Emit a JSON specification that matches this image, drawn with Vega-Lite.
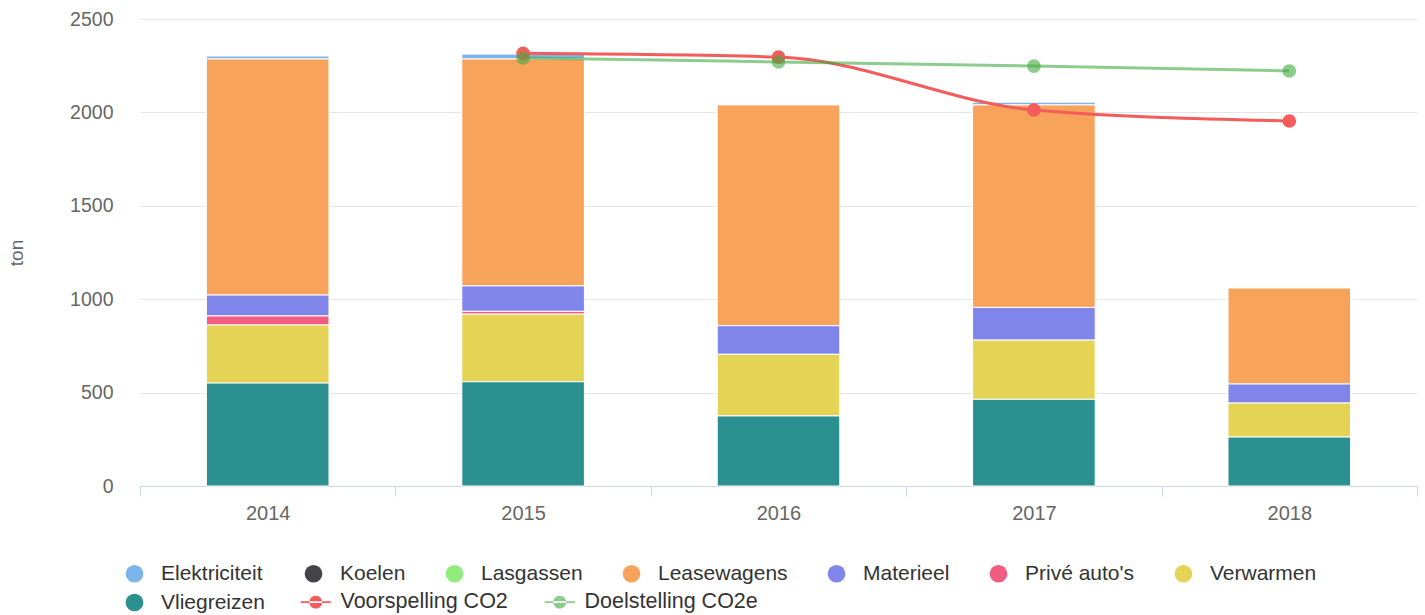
{
  "$schema": "https://vega.github.io/schema/vega-lite/v6.json",
  "autosize": {"type": "none"},
  "width": 1277,
  "height": 467,
  "padding": {"left": 140, "top": 19, "right": 8, "bottom": 129},
  "config": {
    "font": "Liberation Sans",
    "view": {"stroke": null},
    "legend": {"padding": 0}
  },
  "datasets": {
    "bars": [
      {"year": "2014", "cat": "Elektriciteit", "value": 16},
      {"year": "2014", "cat": "Leasewagens", "value": 1264},
      {"year": "2014", "cat": "Materieel", "value": 112},
      {"year": "2014", "cat": "Privé auto's", "value": 48},
      {"year": "2014", "cat": "Verwarmen", "value": 311},
      {"year": "2014", "cat": "Vliegreizen", "value": 551},
      {"year": "2015", "cat": "Elektriciteit", "value": 26},
      {"year": "2015", "cat": "Leasewagens", "value": 1215},
      {"year": "2015", "cat": "Materieel", "value": 136},
      {"year": "2015", "cat": "Privé auto's", "value": 15},
      {"year": "2015", "cat": "Verwarmen", "value": 362},
      {"year": "2015", "cat": "Vliegreizen", "value": 558},
      {"year": "2016", "cat": "Leasewagens", "value": 1182},
      {"year": "2016", "cat": "Materieel", "value": 153},
      {"year": "2016", "cat": "Verwarmen", "value": 330},
      {"year": "2016", "cat": "Vliegreizen", "value": 375},
      {"year": "2017", "cat": "Elektriciteit", "value": 15},
      {"year": "2017", "cat": "Leasewagens", "value": 1084},
      {"year": "2017", "cat": "Materieel", "value": 175},
      {"year": "2017", "cat": "Verwarmen", "value": 317},
      {"year": "2017", "cat": "Vliegreizen", "value": 464},
      {"year": "2018", "cat": "Leasewagens", "value": 514},
      {"year": "2018", "cat": "Materieel", "value": 102},
      {"year": "2018", "cat": "Verwarmen", "value": 182},
      {"year": "2018", "cat": "Vliegreizen", "value": 262}
    ],
    "lines": [
      {"year": "2015", "series": "Voorspelling CO2", "value": 2316},
      {"year": "2016", "series": "Voorspelling CO2", "value": 2296},
      {"year": "2017", "series": "Voorspelling CO2", "value": 2013},
      {"year": "2018", "series": "Voorspelling CO2", "value": 1954},
      {"year": "2015", "series": "Doelstelling CO2e", "value": 2291},
      {"year": "2016", "series": "Doelstelling CO2e", "value": 2270},
      {"year": "2017", "series": "Doelstelling CO2e", "value": 2248},
      {"year": "2018", "series": "Doelstelling CO2e", "value": 2222}
    ]
  },
  "encoding": {
    "x": {
      "field": "year",
      "type": "ordinal",
      "scale": {"domain": ["2014", "2015", "2016", "2017", "2018"], "paddingInner": 0, "paddingOuter": 0},
      "axis": {
        "title": null,
        "labelAngle": 0,
        "labelFontSize": 20,
        "labelColor": "#666666",
        "labelPadding": 7,
        "domainColor": "#ccd6eb",
        "tickColor": "#ccd6eb",
        "tickSize": 10,
        "tickBand": "extent",
        "grid": false
      }
    }
  },
  "layer": [
    {
      "data": {"name": "bars"},
      "mark": {"type": "bar", "stroke": "white", "strokeWidth": 1, "width": {"band": 0.48}},
      "encoding": {
        "y": {
          "field": "value",
          "type": "quantitative",
          "stack": "zero",
          "scale": {"domain": [0, 2500], "nice": false},
          "axis": {
            "title": "ton",
            "titleFontSize": 19,
            "titleFontWeight": "normal",
            "titleColor": "#666666",
            "titlePadding": 43,
            "labelFontSize": 19.5,
            "labelColor": "#666666",
            "labelPadding": 27,
            "format": "d",
            "domain": false,
            "ticks": false,
            "gridColor": "#e6e6e6",
            "values": [0, 500, 1000, 1500, 2000, 2500]
          }
        },
        "color": {
          "field": "cat",
          "type": "nominal",
          "scale": {
            "domain": ["Elektriciteit", "Koelen", "Lasgassen", "Leasewagens", "Materieel", "Privé auto's", "Verwarmen", "Vliegreizen"],
            "range": ["#7cb5ec", "#434348", "#90ed7d", "#f7a35c", "#8085e9", "#f15c80", "#e4d354", "#2b908f"]
          },
          "legend": {
            "title": null,
            "orient": "none",
            "legendX": -16,
            "legendY": 544,
            "direction": "horizontal",
            "columns": 7,
            "columnPadding": 38,
            "rowPadding": 7,
            "symbolType": "circle",
            "symbolSize": 314,
            "symbolStrokeWidth": 0,
            "symbolOpacity": 1,
            "labelFontSize": 21,
            "labelColor": "#333333",
            "labelOffset": 16,
            "labelLimit": 0
          }
        },
        "order": {"field": "cat", "sort": "descending"}
      }
    },
    {
      "data": {"name": "lines"},
      "layer": [
        {
          "mark": {"type": "line", "interpolate": "monotone", "strokeWidth": 3},
          "encoding": {
            "y": {"field": "value", "type": "quantitative", "scale": {"domain": [0, 2500], "nice": false}},
            "opacity": {"condition": {"test": "datum.series === 'Doelstelling CO2e'", "value": 0.6}, "value": 1},
            "color": {
              "field": "series",
              "type": "nominal",
              "scale": {
                "domain": ["Voorspelling CO2", "Doelstelling CO2e"],
                "range": ["#f45b5b", "#3faa3f"]
              },
              "legend": {
                "title": null,
                "orient": "none",
                "legendX": 165,
                "legendY": 572,
                "direction": "horizontal",
                "columns": 2,
                "columnPadding": 36,
                "symbolSize": 314,
                "symbolStrokeWidth": 0,
                "symbolOpacity": 1,
                "labelFontSize": 21.5,
                "labelColor": "#333333",
                "labelOffset": 14,
                "labelLimit": 0,
                "encode": {
                  "symbols": {
                    "update": {
                      "shape": {"value": "M-1.7,-0.09H1.7V0.09H-1.7Z M-0.72,0A0.72,0.72 0 1,0 0.72,0A0.72,0.72 0 1,0 -0.72,0Z"},
                      "opacity": {"signal": "datum.value === 'Doelstelling CO2e' ? 0.6 : 1"}
                    }
                  }
                }
              }
            }
          }
        },
        {
          "mark": {"type": "point", "filled": true, "size": 185},
          "encoding": {
            "y": {"field": "value", "type": "quantitative", "scale": {"domain": [0, 2500], "nice": false}},
            "opacity": {"condition": {"test": "datum.series === 'Doelstelling CO2e'", "value": 0.6}, "value": 1},
            "color": {"field": "series", "type": "nominal"}
          }
        }
      ]
    }
  ],
  "resolve": {"scale": {"color": "independent"}}
}
